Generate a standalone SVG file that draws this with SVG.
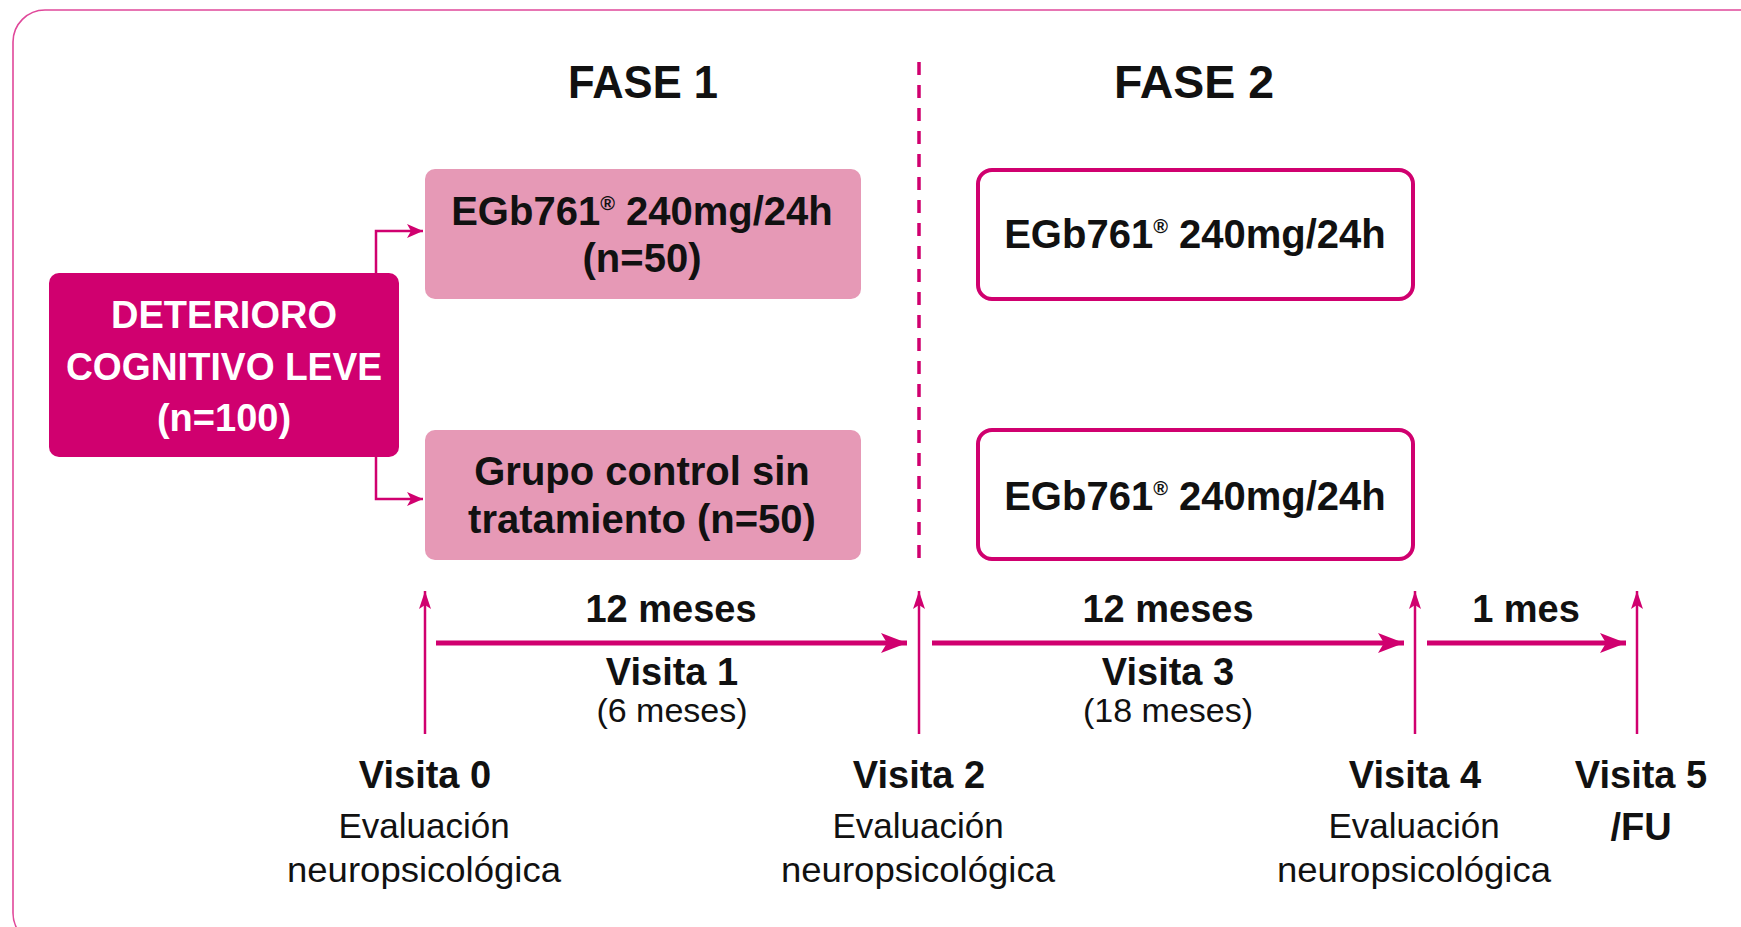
<svg xmlns="http://www.w3.org/2000/svg" width="1741" height="927" viewBox="0 0 1741 927">
<style>
text{font-family:"Liberation Sans",Arial,sans-serif;fill:#111;text-anchor:middle}
.b{font-weight:bold}
.w{fill:#fff}
.thin{stroke:#d0006f;stroke-width:2.5;fill:none}
.thick{stroke:#d0006f;stroke-width:5;fill:none}
.sup{font-size:50%}
</style>
<defs>
<marker id="ah" markerUnits="userSpaceOnUse" markerWidth="20" markerHeight="16" refX="16" refY="7" orient="auto"><path d="M0,0 L16,7 L0,14 L4,7 Z" fill="#d0006f"/></marker>
<marker id="au" markerUnits="userSpaceOnUse" markerWidth="20" markerHeight="14" refX="18" refY="6" orient="auto"><path d="M0,0 L18,6 L0,12 L4,6 Z" fill="#d0006f"/></marker>
<marker id="ab" markerUnits="userSpaceOnUse" markerWidth="28" markerHeight="22" refX="26" refY="10" orient="auto"><path d="M0,0 L26,10 L0,20 L6,10 Z" fill="#d0006f"/></marker>
</defs>
<rect x="13" y="10" width="1760" height="935" rx="32" fill="#fff" stroke="#e0489a" stroke-width="1.6"/>
<line x1="919" y1="62" x2="919" y2="562" stroke="#d0006f" stroke-width="3.5" stroke-dasharray="13,10"/>
<text class="b" x="643" y="98" font-size="46" textLength="150" lengthAdjust="spacingAndGlyphs">FASE 1</text>
<text class="b" x="1194" y="98" font-size="46" textLength="160" lengthAdjust="spacingAndGlyphs">FASE 2</text>
<g id="deterioro">
<rect x="49" y="273" width="350" height="184" rx="10" fill="#d0006f"/>
<text class="b w" x="224" y="328" font-size="38">DETERIORO</text>
<text class="b w" x="224" y="380" font-size="38" textLength="316" lengthAdjust="spacingAndGlyphs">COGNITIVO LEVE</text>
<text class="b w" x="224" y="431" font-size="38">(n=100)</text>
</g>
<g id="f1-egb">
<rect x="425" y="169" width="436" height="130" rx="10" fill="#e699b6"/>
<text class="b" x="642" y="225" font-size="40">EGb761<tspan class="sup" dy="-15">®</tspan><tspan dy="15"> 240mg/24h</tspan></text>
<text class="b" x="642" y="272" font-size="40">(n=50)</text>
</g>
<g id="f1-control">
<rect x="425" y="430" width="436" height="130" rx="10" fill="#e699b6"/>
<text class="b" x="642" y="485" font-size="40">Grupo control sin</text>
<text class="b" x="642" y="533" font-size="40">tratamiento (n=50)</text>
</g>
<g id="f2-egb-a">
<rect x="978" y="170" width="435" height="129" rx="14" fill="#fff" stroke="#d0006f" stroke-width="4"/>
<text class="b" x="1195" y="248" font-size="40">EGb761<tspan class="sup" dy="-15">®</tspan><tspan dy="15"> 240mg/24h</tspan></text>
</g>
<g id="f2-egb-b">
<rect x="978" y="430" width="435" height="129" rx="14" fill="#fff" stroke="#d0006f" stroke-width="4"/>
<text class="b" x="1195" y="510" font-size="40">EGb761<tspan class="sup" dy="-15">®</tspan><tspan dy="15"> 240mg/24h</tspan></text>
</g>
<g id="connectors">
<polyline class="thin" points="376,273 376,231 423,231" marker-end="url(#ah)"/>
<polyline class="thin" points="376,457 376,499 423,499" marker-end="url(#ah)"/>
<line class="thin" x1="425" y1="734" x2="425" y2="591" marker-end="url(#au)"/>
<line class="thin" x1="919" y1="734" x2="919" y2="591" marker-end="url(#au)"/>
<line class="thin" x1="1415" y1="734" x2="1415" y2="591" marker-end="url(#au)"/>
<line class="thin" x1="1637" y1="734" x2="1637" y2="591" marker-end="url(#au)"/>
<line class="thick" x1="436" y1="643" x2="907" y2="643" marker-end="url(#ab)"/>
<line class="thick" x1="932" y1="643" x2="1404" y2="643" marker-end="url(#ab)"/>
<line class="thick" x1="1427" y1="643" x2="1626" y2="643" marker-end="url(#ab)"/>
</g>
<g id="labels">
<text class="b" x="671" y="622" font-size="38">12 meses</text>
<text class="b" x="672" y="685" font-size="38">Visita 1</text>
<text x="672" y="722" font-size="34">(6 meses)</text>
<text class="b" x="1168" y="622" font-size="38">12 meses</text>
<text class="b" x="1168" y="685" font-size="38">Visita 3</text>
<text x="1168" y="722" font-size="34">(18 meses)</text>
<text class="b" x="1526" y="622" font-size="38">1 mes</text>
</g>
<g id="v0">
<text class="b" x="425" y="788" font-size="38">Visita 0</text>
<text x="424" y="838" font-size="35">Evaluación</text>
<text x="424" y="882" font-size="35" textLength="274" lengthAdjust="spacingAndGlyphs">neuropsicológica</text>
</g>
<g id="v2">
<text class="b" x="919" y="788" font-size="38">Visita 2</text>
<text x="918" y="838" font-size="35">Evaluación</text>
<text x="918" y="882" font-size="35" textLength="274" lengthAdjust="spacingAndGlyphs">neuropsicológica</text>
</g>
<g id="v4">
<text class="b" x="1415" y="788" font-size="38">Visita 4</text>
<text x="1414" y="838" font-size="35">Evaluación</text>
<text x="1414" y="882" font-size="35" textLength="274" lengthAdjust="spacingAndGlyphs">neuropsicológica</text>
</g>
<g id="v5">
<text class="b" x="1641" y="788" font-size="38">Visita 5</text>
<text class="b" x="1641" y="840" font-size="38">/FU</text>
</g>
</svg>
